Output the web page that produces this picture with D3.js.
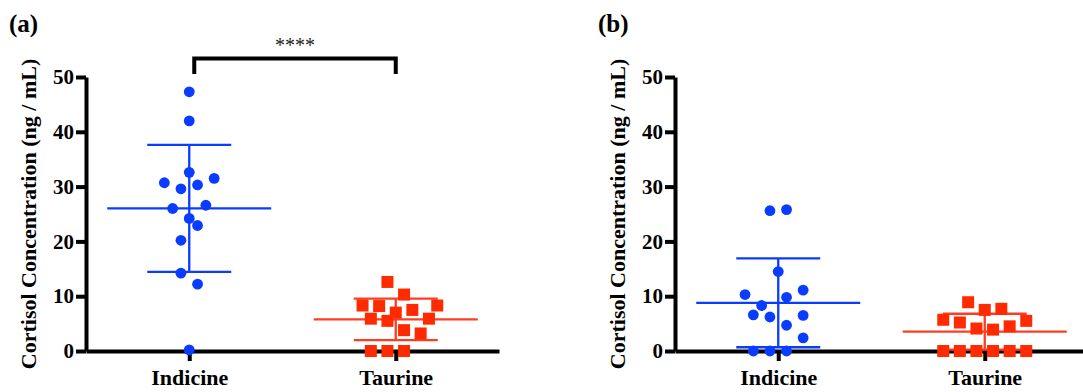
<!DOCTYPE html>
<html>
<head>
<meta charset="utf-8">
<script src="https://cdn.jsdelivr.net/npm/d3@7"></script>
<style>
body { margin: 0; background: #fff; }
svg { display: block; }
</style>
</head>
<body>
<div id="chart"></div>
<script>
// groups shown on both panels
var groups = ["Indicine", "Taurine"];
var yTicks = [0, 10, 20, 30, 40, 50];

// panel (a) cortisol values, ng/mL, with the scatter column of each point
var indicineA = [47.3, 42.0, 32.6, 30.7, 31.5, 30.3, 29.6, 26.0, 26.6, 24.2, 22.9, 20.2, 14.2, 12.2, 0.2];
var indicineASlot = [0, 0, 0, -3, 3, 1, -1, -2, 2, 0, 1, -1, -1, 1, 0];
var taurineA = [12.6, 10.3, 8.3, 8.2, 8.3, 7.5, 7.0, 5.9, 5.5, 5.9, 3.8, 3.2, 0, 0, 0];
var taurineASlot = [-1, 1, -4, -2, 5, 2, 0, -3, -1, 4, 1, 3, -3, -1, 1];

// panel (b)
var indicineB = [25.6, 25.8, 14.5, 10.3, 11.1, 9.8, 8.3, 6.6, 6.2, 6.5, 4.7, 2.4, 0, 0, 0];
var indicineBSlot = [-1, 1, 0, -4, 3, 1, -2, -3, -1, 3, 1, 3, -3, -1, 1];
var taurineB = [8.9, 7.5, 7.7, 5.7, 5.2, 5.5, 4.1, 3.9, 4.5, 0, 0, 0, 0, 0, 0];
var taurineBSlot = [-2, 0, 2, -5, -3, 5, -1, 1, 3, -5, -3, -1, 1, 3, 5];

var W = 1083, H = 392;
var blue = "#0a3cff", red = "#ff2a00", redLine = "#ff3d22";
var serif = "Liberation Serif";

var svg = d3.select("#chart").append("svg")
	.attr("width", W)
	.attr("height", H);

var y = d3.scaleLinear().domain([0, 50]).range([351, 77]);

function styleText(sel, size, bold) {
	sel.attr("font-family", serif)
		.attr("font-size", size)
		.attr("font-weight", bold ? "bold" : "normal");
}

function drawPanel(x0, letter, series, bracket) {
	var g = svg.append("g");
	var x = d3.scalePoint().domain(groups).range([x0, x0 + 413]).padding(0.5);
	var slotW = 8.3;

	// y axis
	var ya = g.append("g")
		.attr("transform", "translate(" + x0 + ",0)")
		.call(d3.axisLeft(y).tickValues(yTicks).tickSize(10).tickSizeOuter(0).tickPadding(2));
	ya.attr("font-family", serif);
	ya.select(".domain").attr("stroke", "#000").attr("stroke-width", 4);
	ya.selectAll(".tick line").attr("stroke", "#000").attr("stroke-width", 4);
	ya.selectAll(".tick text").attr("fill", "#000").call(styleText, 21, true);

	// x axis
	var xa = g.append("g")
		.attr("transform", "translate(0," + y(0) + ")")
		.call(d3.axisBottom(x).tickSize(10).tickSizeOuter(0).tickPadding(8));
	xa.attr("font-family", serif);
	xa.select(".domain").attr("stroke", "#000").attr("stroke-width", 4);
	xa.selectAll(".tick line").attr("stroke", "#000").attr("stroke-width", 4);
	xa.selectAll(".tick text").attr("fill", "#000").call(styleText, 22, true);

	// y title
	g.append("text")
		.attr("transform", "translate(" + (x0 - 50) + "," + ((y(0) + y(50)) / 2) + ") rotate(-90)")
		.attr("text-anchor", "middle")
		.call(styleText, 22, true)
		.text("Cortisol Concentration (ng / mL)");

	// panel letter
	g.append("text")
		.attr("x", x0 - 77)
		.attr("y", 32)
		.call(styleText, 25, true)
		.text(letter);

	series.forEach(function (s) {
		var cx = x(s.group);
		var m = d3.mean(s.values);
		var sd = d3.deviation(s.values);
		var lo = Math.max(0, m - sd);
		var lc = s.shape == "circle" ? blue : redLine;
		var eg = g.append("g").attr("stroke", lc).attr("stroke-width", 2.3).attr("fill", "none");
		eg.append("line").attr("x1", cx - 82).attr("x2", cx + 82).attr("y1", y(m)).attr("y2", y(m));
		eg.append("line").attr("x1", cx).attr("x2", cx).attr("y1", y(m + sd)).attr("y2", y(lo));
		eg.append("line").attr("x1", cx - 42).attr("x2", cx + 42).attr("y1", y(m + sd)).attr("y2", y(m + sd));
		eg.append("line").attr("x1", cx - 42).attr("x2", cx + 42).attr("y1", y(lo)).attr("y2", y(lo));

		var pts = s.values.map(function (v, i) { return { v: v, slot: s.slots[i] }; });
		if (s.shape == "circle") {
			g.selectAll(null).data(pts).enter().append("circle")
				.attr("cx", function (d) { return cx + d.slot * slotW; })
				.attr("cy", function (d) { return y(d.v); })
				.attr("r", 5.4)
				.attr("fill", blue);
		} else {
			g.selectAll(null).data(pts).enter().append("rect")
				.attr("x", function (d) { return cx + d.slot * slotW - 6; })
				.attr("y", function (d) { return y(d.v) - 6; })
				.attr("width", 12)
				.attr("height", 12)
				.attr("fill", red);
		}
	});

	if (bracket) {
		var bx1 = x(groups[0]) + 5, bx2 = x(groups[1]);
		g.append("path")
			.attr("d", "M" + bx1 + ",74V58.5H" + bx2 + "V74")
			.attr("fill", "none")
			.attr("stroke", "#000")
			.attr("stroke-width", 4);
		g.append("text")
			.attr("x", (bx1 + bx2) / 2)
			.attr("y", 52)
			.attr("text-anchor", "middle")
			.attr("fill", "#222")
			.call(styleText, 20, false)
			.text("****");
	}
}

drawPanel(86, "(a)", [
	{ group: "Indicine", values: indicineA, slots: indicineASlot, shape: "circle" },
	{ group: "Taurine", values: taurineA, slots: taurineASlot, shape: "square" }
], true);

drawPanel(675, "(b)", [
	{ group: "Indicine", values: indicineB, slots: indicineBSlot, shape: "circle" },
	{ group: "Taurine", values: taurineB, slots: taurineBSlot, shape: "square" }
], false);
</script>
</body>
</html>
